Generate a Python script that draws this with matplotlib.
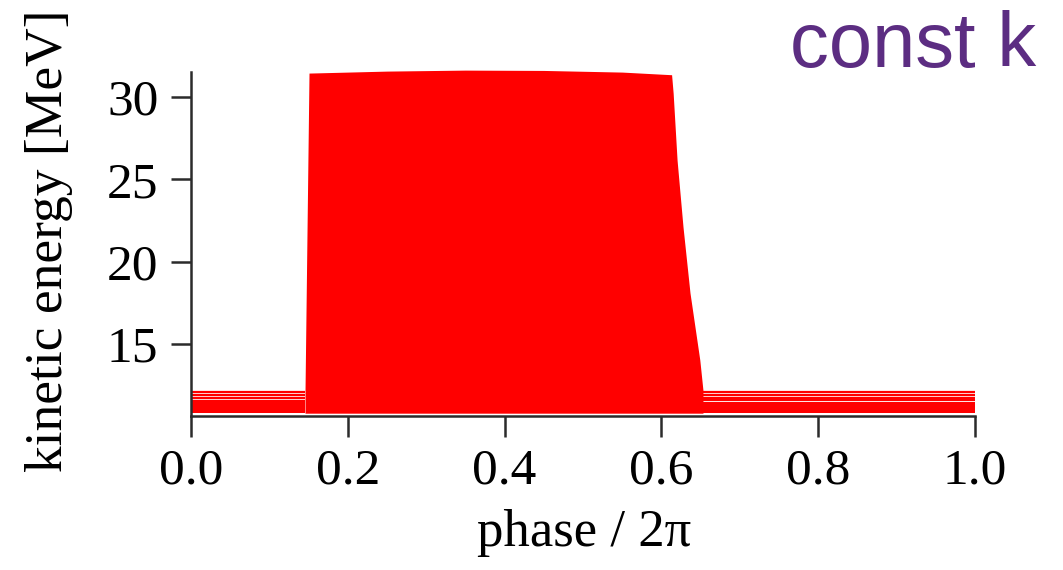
import matplotlib
matplotlib.use("Agg")
import matplotlib.pyplot as plt

# accelerated bunch: phase / 2pi vs kinetic energy [MeV]
block_phase = [0.1454, 0.1505, 0.25, 0.35, 0.45, 0.55, 0.613, 0.615, 0.620, 0.6276, 0.6365, 0.649, 0.653]
block_energy = [12.1, 31.46, 31.58, 31.64, 31.62, 31.52, 31.36, 30.24, 26.17, 22.1, 18.1, 14.03, 12.2]

# unaccelerated particles either side of the bunch
left_phase = [0.0, 0.1454]
right_phase = [0.653, 1.0]
band_floor = 10.8
band_solid_top = 11.45
left_levels = [11.55, 11.72, 11.91, 12.11]
right_levels = [11.6, 11.75, 11.9, 12.11]

xticks = [0.0, 0.2, 0.4, 0.6, 0.8, 1.0]
yticks = [15, 20, 25, 30]

red = '#ff0000'
axis_col = '#2b2b2b'

plt.rcParams['font.family'] = ['Liberation Serif', 'DejaVu Serif']

fig = plt.figure(figsize=(10.63, 5.70), dpi=100)
ax = fig.add_axes([0.1797, 0.2702, 0.7375, 0.6039])

ax.fill_between(block_phase, block_energy, band_floor, color=red, lw=0, clip_on=False)
ax.fill_between(left_phase, band_solid_top, band_floor, color=red, lw=0)
ax.fill_between(right_phase, band_solid_top, band_floor, color=red, lw=0)
ax.hlines(left_levels, left_phase[0], left_phase[1], color=red, lw=1.6)
ax.hlines(right_levels, right_phase[0], right_phase[1], color=red, lw=1.6)

ax.set_xlim(0, 1)
ax.set_ylim(10.63, 31.54)
ax.set_xticks(xticks)
ax.set_xticklabels(['%.1f' % t for t in xticks])
ax.set_yticks(yticks)

for s in ['top', 'right']:
    ax.spines[s].set_visible(False)
for s in ['left', 'bottom']:
    ax.spines[s].set_color(axis_col)
    ax.spines[s].set_linewidth(1.8)

ax.tick_params(axis='x', direction='out', length=15, width=1.8, color=axis_col,
               labelsize=37, pad=8)
ax.tick_params(axis='y', direction='out', length=14.5, width=1.8, color=axis_col,
               labelsize=37, pad=9)

ax.set_xlabel('phase / 2\u03c0', fontsize=38)
ax.set_ylabel('kinetic energy [MeV]', fontsize=38.5)
ax.xaxis.set_label_coords(0.501, -0.27)
ax.yaxis.set_label_coords(-0.15, 0.51)

fig.text(0.9746, 0.8825, 'const k', ha='right', va='baseline', fontsize=56,
         color='#5c2d82', family=['Liberation Sans', 'DejaVu Sans'])

fig.savefig('out.png', dpi=100)
